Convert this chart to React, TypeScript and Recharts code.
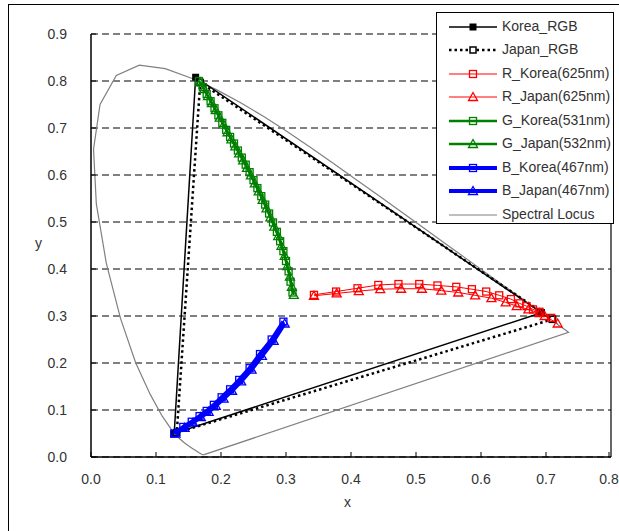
import React from 'react';
import { ScatterChart, Scatter, XAxis, YAxis, CartesianGrid, ReferenceLine } from 'recharts';

// tick labels
const xTicks = [0, 0.1, 0.2, 0.3, 0.4, 0.5, 0.6, 0.7, 0.8];
const yTicks = [0, 0.1, 0.2, 0.3, 0.4, 0.5, 0.6, 0.7, 0.8, 0.9];

// RGB triangles (R, G, B, back to R)
const koreaRgbX = [0.693, 0.161, 0.128, 0.693];
const koreaRgbY = [0.307, 0.808, 0.05, 0.307];
const japanRgbX = [0.71, 0.168, 0.132, 0.71];
const japanRgbY = [0.293, 0.797, 0.052, 0.293];

// red LED curves
const rKoreaX = [0.343, 0.377, 0.41, 0.442, 0.473, 0.505, 0.533, 0.562, 0.586, 0.608, 0.628, 0.646, 0.659, 0.67, 0.68, 0.69, 0.708];
const rKoreaY = [0.345, 0.352, 0.359, 0.366, 0.368, 0.368, 0.365, 0.362, 0.357, 0.352, 0.344, 0.336, 0.327, 0.321, 0.314, 0.309, 0.296];
const rJapanX = [0.343, 0.378, 0.412, 0.445, 0.477, 0.509, 0.539, 0.565, 0.591, 0.616, 0.638, 0.655, 0.673, 0.69, 0.698, 0.718];
const rJapanY = [0.343, 0.348, 0.353, 0.357, 0.358, 0.358, 0.354, 0.35, 0.344, 0.338, 0.329, 0.321, 0.314, 0.306, 0.3, 0.284];

// green LED curves
const gKoreaX = [0.166, 0.172, 0.178, 0.184, 0.19, 0.196, 0.202, 0.208, 0.214, 0.22, 0.226, 0.232, 0.238, 0.244, 0.25, 0.256, 0.262, 0.268, 0.274, 0.28, 0.286, 0.291, 0.296, 0.3, 0.304, 0.307, 0.31];
const gKoreaY = [0.8, 0.787, 0.772, 0.757, 0.742, 0.727, 0.711, 0.696, 0.681, 0.667, 0.652, 0.637, 0.622, 0.606, 0.589, 0.572, 0.555, 0.537, 0.518, 0.499, 0.479, 0.459, 0.438, 0.417, 0.395, 0.373, 0.35];
const gJapanX = [0.168, 0.174, 0.18, 0.186, 0.192, 0.198, 0.204, 0.21, 0.216, 0.222, 0.228, 0.234, 0.24, 0.246, 0.252, 0.258, 0.264, 0.27, 0.276, 0.282, 0.288, 0.293, 0.298, 0.302, 0.306, 0.309, 0.312];
const gJapanY = [0.797, 0.783, 0.768, 0.753, 0.738, 0.722, 0.707, 0.691, 0.676, 0.661, 0.646, 0.631, 0.615, 0.599, 0.582, 0.565, 0.547, 0.529, 0.51, 0.49, 0.47, 0.449, 0.428, 0.406, 0.384, 0.362, 0.345];

// blue LED curves
const bKoreaX = [0.128, 0.142, 0.155, 0.167, 0.178, 0.189, 0.201, 0.214, 0.228, 0.244, 0.26, 0.278, 0.296];
const bKoreaY = [0.05, 0.064, 0.075, 0.087, 0.098, 0.111, 0.127, 0.144, 0.164, 0.189, 0.219, 0.25, 0.288];
const bJapanX = [0.13, 0.144, 0.157, 0.169, 0.181, 0.192, 0.204, 0.217, 0.231, 0.247, 0.263, 0.281, 0.298];
const bJapanY = [0.05, 0.062, 0.073, 0.085, 0.096, 0.109, 0.124, 0.141, 0.161, 0.186, 0.215, 0.247, 0.284];

// CIE 1931 spectral locus, closed with the line of purples
const locusX = [0.1741, 0.174, 0.1738, 0.1736, 0.1733, 0.173, 0.1726, 0.1721, 0.1714, 0.1703, 0.1689, 0.1669, 0.1644, 0.1611, 0.1566, 0.151, 0.144, 0.1355, 0.1241, 0.1096, 0.0913, 0.0687, 0.0454, 0.0235, 0.0082, 0.0039, 0.0139, 0.0389, 0.0743, 0.1142, 0.1547, 0.1929, 0.2296, 0.2658, 0.3016, 0.3373, 0.3731, 0.4087, 0.4441, 0.4788, 0.5125, 0.5448, 0.5752, 0.6029, 0.627, 0.6482, 0.6658, 0.6801, 0.6915, 0.7006, 0.7079, 0.714, 0.719, 0.723, 0.726, 0.73, 0.732, 0.7334, 0.7347, 0.1741];
const locusY = [0.005, 0.005, 0.0049, 0.0049, 0.0048, 0.0048, 0.0048, 0.0048, 0.0051, 0.0058, 0.0069, 0.0086, 0.0109, 0.0138, 0.0177, 0.0227, 0.0297, 0.0399, 0.0578, 0.0868, 0.1327, 0.2007, 0.295, 0.4127, 0.5384, 0.6548, 0.7502, 0.812, 0.8338, 0.8262, 0.8059, 0.7816, 0.7543, 0.7243, 0.6923, 0.6589, 0.6245, 0.5896, 0.5547, 0.5202, 0.4866, 0.4544, 0.4242, 0.3965, 0.3725, 0.3514, 0.334, 0.3197, 0.3083, 0.2993, 0.292, 0.2859, 0.2809, 0.277, 0.274, 0.27, 0.268, 0.2666, 0.2653, 0.005];

const pts = (xs: number[], ys: number[]) => xs.map((x, i) => ({ x, y: ys[i] }));

const FONT = '"Liberation Sans", Arial, sans-serif';

const Square = (color: string, size = 7, fill = 'none', sw = 1.3) => (p: any) => (
  <rect x={p.cx - size / 2} y={p.cy - size / 2} width={size} height={size} fill={fill} stroke={color} strokeWidth={sw} />
);
const Triangle = (color: string) => (p: any) => (
  <polygon points={`${p.cx},${p.cy - 4.5} ${p.cx + 4.5},${p.cy + 3.5} ${p.cx - 4.5},${p.cy + 3.5}`} fill="none" stroke={color} strokeWidth={1.3} />
);
const NoDot = () => <g />;

const XTick = (p: any) => (
  <g>
    <line x1={p.x} x2={p.x} y1={p.y} y2={p.y - 5} stroke="#000" />
    <text x={p.x} y={p.y + 27} textAnchor="middle" fontSize={14} fill="#333" fontFamily={FONT}>{Number(p.payload.value).toFixed(1)}</text>
  </g>
);
const YTick = (p: any) => (
  <g>
    <line x1={p.x} x2={p.x + 5} y1={p.y} y2={p.y} stroke="#000" />
    <text x={p.x - 24} y={p.y + 5} textAnchor="end" fontSize={14} fill="#333" fontFamily={FONT}>{Number(p.payload.value).toFixed(1)}</text>
  </g>
);

const legendItems = [
  { name: 'Korea_RGB', color: '#000', w: 1.5, dash: undefined, marker: 'filled' },
  { name: 'Japan_RGB', color: '#000', w: 2.5, dash: '2.5 3', marker: 'small' },
  { name: 'R_Korea(625nm)', color: '#ff0000', w: 1, dash: undefined, marker: 'square' },
  { name: 'R_Japan(625nm)', color: '#ff0000', w: 1, dash: undefined, marker: 'triangle' },
  { name: 'G_Korea(531nm)', color: '#008000', w: 2.5, dash: undefined, marker: 'square' },
  { name: 'G_Japan(532nm)', color: '#008000', w: 2.5, dash: undefined, marker: 'triangle' },
  { name: 'B_Korea(467nm)', color: '#0000ff', w: 4, dash: undefined, marker: 'square' },
  { name: 'B_Japan(467nm)', color: '#0000ff', w: 4, dash: undefined, marker: 'triangle' },
  { name: 'Spectral Locus', color: '#808080', w: 1.2, dash: undefined, marker: null },
];

function LegendBox() {
  return (
    <div style={{ position: 'absolute', left: 436, top: 12, width: 178, height: 212, border: '1px solid #000', background: '#fff', boxSizing: 'border-box' }}>
      {legendItems.map((it, i) => {
        const cy = 13.5 + i * 23.5;
        return (
          <div key={it.name} style={{ position: 'absolute', left: 0, top: cy - 10, height: 20, width: 178 }}>
            <svg width={64} height={20} style={{ position: 'absolute', left: 8, top: 0 }}>
              <line x1={4} x2={52} y1={10} y2={10} stroke={it.color} strokeWidth={it.w} strokeDasharray={it.dash} />
              {it.marker === 'filled' && <rect x={24.5} y={6.5} width={7} height={7} fill="#000" />}
              {it.marker === 'small' && <rect x={25} y={7} width={6} height={6} fill="#fff" stroke="#000" strokeWidth={1.5} />}
              {it.marker === 'square' && <rect x={24.5} y={6.5} width={7} height={7} fill="none" stroke={it.color} strokeWidth={1.3} />}
              {it.marker === 'triangle' && <polygon points="28,5.5 32.5,13.5 23.5,13.5" fill="none" stroke={it.color} strokeWidth={1.3} />}
            </svg>
            <span style={{ position: 'absolute', left: 65, top: 1, fontSize: 14, color: '#333', fontFamily: FONT, whiteSpace: 'nowrap' }}>{it.name}</span>
          </div>
        );
      })}
    </div>
  );
}

export default function App() {
  return (
    <div style={{ position: 'absolute', left: 0, top: 0, width: 619, height: 531, overflow: 'hidden', background: '#fff' }}>
      <div style={{ position: 'absolute', left: 8, top: 4, width: 800, height: 700, borderLeft: '1.5px solid #000', borderTop: '1.5px solid #000' }} />
      <div style={{ position: 'absolute', left: 0, top: 0 }}>
        <ScatterChart width={619} height={531} margin={{ top: 34, right: 8, bottom: 0, left: 0 }}>
          <CartesianGrid vertical={false} stroke="#000" strokeDasharray="7 4" />
          <XAxis type="number" dataKey="x" domain={[0, 0.8]} ticks={xTicks} height={74} tickSize={0} tickMargin={0} tickLine={false} tick={XTick} axisLine={{ stroke: '#000', strokeWidth: 1.5 }} allowDataOverflow />
          <YAxis type="number" dataKey="y" domain={[0, 0.9]} ticks={yTicks} width={91} tickSize={0} tickMargin={0} tickLine={false} tick={YTick} axisLine={{ stroke: '#000', strokeWidth: 1.5 }} allowDataOverflow />
          <ReferenceLine x={0.8} stroke="#000" strokeWidth={1.2} />
          <Scatter name="Spectral Locus" data={pts(locusX, locusY)} line={{ stroke: '#808080', strokeWidth: 1.2 }} shape={NoDot} isAnimationActive={false} />
          <Scatter name="Korea_RGB" data={pts(koreaRgbX, koreaRgbY)} line={{ stroke: '#000', strokeWidth: 1.5 }} shape={Square('#000', 7, '#000', 0)} isAnimationActive={false} />
          <Scatter name="Japan_RGB" data={pts(japanRgbX, japanRgbY)} line={{ stroke: '#000', strokeWidth: 2.5, strokeDasharray: '2.5 3' }} shape={Square('#000', 6, '#fff', 1.5)} isAnimationActive={false} />
          <Scatter name="R_Korea(625nm)" data={pts(rKoreaX, rKoreaY)} line={{ stroke: '#ff0000', strokeWidth: 1 }} shape={Square('#ff0000')} isAnimationActive={false} />
          <Scatter name="R_Japan(625nm)" data={pts(rJapanX, rJapanY)} line={{ stroke: '#ff0000', strokeWidth: 1 }} shape={Triangle('#ff0000')} isAnimationActive={false} />
          <Scatter name="G_Korea(531nm)" data={pts(gKoreaX, gKoreaY)} line={{ stroke: '#008000', strokeWidth: 2.5 }} shape={Square('#008000')} isAnimationActive={false} />
          <Scatter name="G_Japan(532nm)" data={pts(gJapanX, gJapanY)} line={{ stroke: '#008000', strokeWidth: 2.5 }} shape={Triangle('#008000')} isAnimationActive={false} />
          <Scatter name="B_Korea(467nm)" data={pts(bKoreaX, bKoreaY)} line={{ stroke: '#0000ff', strokeWidth: 4 }} shape={Square('#0000ff')} isAnimationActive={false} />
          <Scatter name="B_Japan(467nm)" data={pts(bJapanX, bJapanY)} line={{ stroke: '#0000ff', strokeWidth: 4 }} shape={Triangle('#0000ff')} isAnimationActive={false} />
        </ScatterChart>
      </div>
      <div style={{ position: 'absolute', left: 344, top: 494, fontSize: 14, color: '#333', fontFamily: FONT }}>x</div>
      <div style={{ position: 'absolute', left: 35, top: 235, fontSize: 14, color: '#333', fontFamily: FONT }}>y</div>
      <LegendBox />
    </div>
  );
}
